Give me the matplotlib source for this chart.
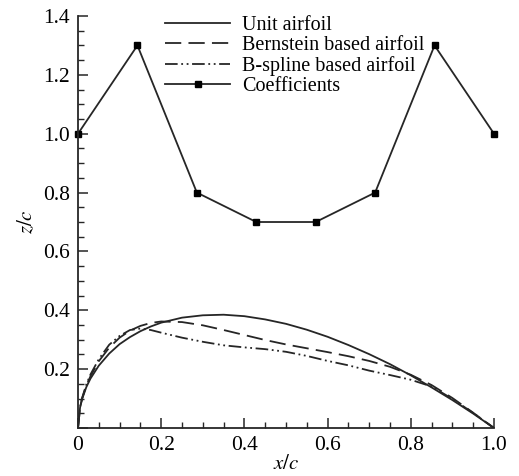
import matplotlib
matplotlib.use("Agg")
import matplotlib.pyplot as plt
from matplotlib.ticker import MultipleLocator, FuncFormatter

plt.rcParams['font.family'] = ['Liberation Serif', 'DejaVu Serif']
plt.rcParams['mathtext.fontset'] = 'stix'

# chordwise stations
x_c = [0, 0.005, 0.01, 0.02, 0.03, 0.05, 0.075, 0.1, 0.125, 0.15, 0.175, 0.2,
       0.25, 0.3, 0.35, 0.4, 0.45, 0.5, 0.55, 0.6, 0.65, 0.7, 0.75, 0.8,
       0.85, 0.9, 0.95, 1.0]

unit_z = [0, 0.070, 0.099, 0.139, 0.168, 0.212, 0.253, 0.285, 0.309, 0.329,
          0.345, 0.358, 0.375, 0.383, 0.385, 0.380, 0.369, 0.354, 0.334,
          0.310, 0.282, 0.251, 0.217, 0.179, 0.138, 0.095, 0.049, 0]

bernstein_z = [0, 0.071, 0.101, 0.144, 0.176, 0.227, 0.273, 0.307, 0.331,
               0.347, 0.357, 0.362, 0.360, 0.349, 0.333, 0.316, 0.299, 0.284,
               0.271, 0.258, 0.244, 0.228, 0.208, 0.181, 0.146, 0.102, 0.052, 0]

bspline_z = [0, 0.072, 0.103, 0.148, 0.182, 0.234, 0.283, 0.313, 0.333,
             0.338, 0.333, 0.324, 0.307, 0.293, 0.281, 0.274, 0.268, 0.259,
             0.245, 0.228, 0.213, 0.195, 0.180, 0.164, 0.141, 0.099, 0.051, 0]

# shape coefficients
coef_x = [0, 1/7, 2/7, 3/7, 4/7, 5/7, 6/7, 1]
coef_y = [1.0, 1.3, 0.8, 0.7, 0.7, 0.8, 1.3, 1.0]

fig = plt.figure(figsize=(5.19, 4.76), dpi=100)
ax = fig.add_axes([0.1503, 0.1008, 0.8015, 0.8656])

c = '#262626'
lw = 1.3
ax.plot(x_c, unit_z, color=c, lw=lw, label='Unit airfoil')
ax.plot(x_c, bernstein_z, color=c, lw=lw, linestyle=(0, (9, 4)),
        label='Bernstein based airfoil')
ax.plot(x_c, bspline_z, color=c, lw=lw, linestyle=(0, (7, 2, 1, 2, 1, 2)),
        label='B-spline based airfoil')
ax.plot(coef_x, coef_y, color=c, lw=lw, marker='s', markersize=4.8,
        markerfacecolor='black', markeredgecolor='black', clip_on=False,
        label='Coefficients')

ax.set_xlim(0, 1.0)
ax.set_ylim(0, 1.4)
for s in ['top', 'right']:
    ax.spines[s].set_visible(False)
for s in ['left', 'bottom']:
    ax.spines[s].set_color(c)
    ax.spines[s].set_linewidth(1.3)

ax.xaxis.set_major_locator(MultipleLocator(0.2))
ax.xaxis.set_minor_locator(MultipleLocator(0.05))
ax.yaxis.set_major_locator(MultipleLocator(0.2))
ax.yaxis.set_minor_locator(MultipleLocator(0.05))
ax.xaxis.set_major_formatter(FuncFormatter(lambda v, p: '0' if abs(v) < 1e-9 else f'{v:.1f}'))
ax.yaxis.set_major_formatter(FuncFormatter(lambda v, p: '' if abs(v) < 1e-9 else f'{v:.1f}'))
ax.tick_params(which='major', direction='in', length=7, width=1.1, color=c,
               labelsize=15.5, pad=6)
ax.tick_params(which='minor', direction='in', length=4, width=1.0, color=c)

ax.set_xlabel('$x/c$', fontsize=15, labelpad=0)
ax.set_ylabel('$z/c$', fontsize=15, labelpad=4)

ax.legend(loc='upper left', bbox_to_anchor=(0.21, 1.0), frameon=False,
          fontsize=14.5, handlelength=3.2, handletextpad=0.6, labelspacing=0.05,
          borderpad=0, borderaxespad=0)

fig.savefig('out.png', dpi=100)
